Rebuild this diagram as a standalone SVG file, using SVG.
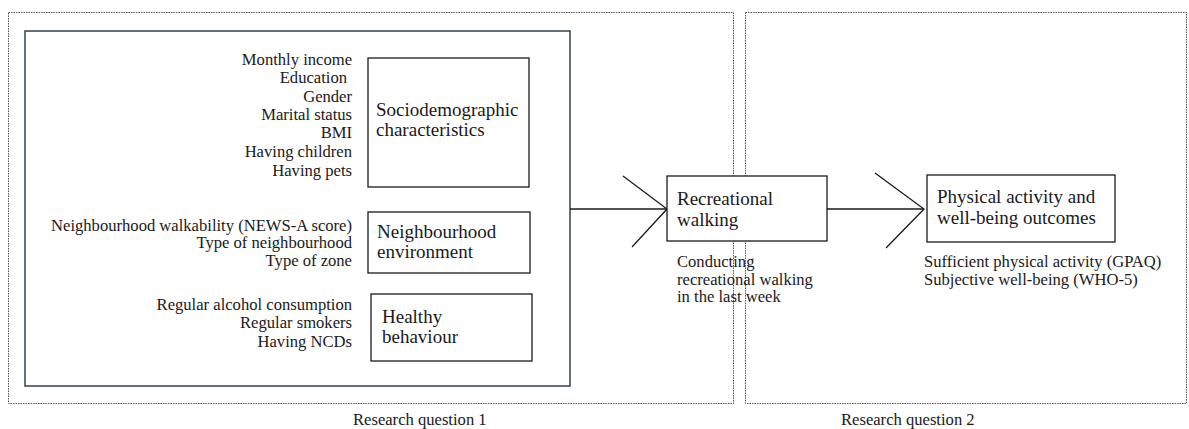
<svg xmlns="http://www.w3.org/2000/svg" width="1189" height="429" viewBox="0 0 1189 429">
<style>
.frame{fill:none;stroke:#555;stroke-width:1;stroke-dasharray:1.5 1}
.inner{fill:none;stroke:#34404c;stroke-width:1.5}
.box{fill:#fff;stroke:#1a1a1a;stroke-width:1.3}
.conn{fill:none;stroke:#1a1a1a;stroke-width:1.3}
text{font-family:"Liberation Serif","Times New Roman",serif;fill:#1a1a1a}
.t{font-size:19px}
.s{font-size:16.6px}
.r{text-anchor:end}
</style>
<rect width="1189" height="429" fill="#fff"/>
<g id="frames">
<rect class="frame" x="8.5" y="12.5" width="725" height="391"/>
<rect class="frame" x="745.5" y="12.5" width="441" height="391"/>
<rect class="inner" x="25" y="31" width="545" height="355"/>
<text class="s" x="353" y="425">Research question 1</text>
<text class="s" x="841" y="425">Research question 2</text>
</g>
<g id="connectors">
<line class="conn" x1="570" y1="209" x2="667" y2="209"/>
<polyline class="conn" points="623,176 667,209 632,247"/>
<line class="conn" x1="827" y1="209" x2="923" y2="209"/>
<polyline class="conn" points="875,173 924,209 886,248"/>
</g>
<g id="sociodemographic">
<g class="s r">
<text x="352" y="65">Monthly income</text>
<text x="347" y="83">Education</text>
<text x="352" y="102">Gender</text>
<text x="352" y="120">Marital status</text>
<text x="352" y="138">BMI</text>
<text x="352" y="157">Having children</text>
<text x="352" y="176">Having pets</text>
</g>
<rect class="box" x="368" y="58" width="161" height="129"/>
<text class="t" x="376" y="116">Sociodemographic</text>
<text class="t" x="376" y="136">characteristics</text>
</g>
<g id="neighbourhood">
<g class="s r">
<text x="352" y="231">Neighbourhood walkability (NEWS-A score)</text>
<text x="352" y="248">Type of neighbourhood</text>
<text x="352" y="266">Type of zone</text>
</g>
<rect class="box" x="368" y="212" width="162" height="61"/>
<text class="t" x="377" y="238">Neighbourhood</text>
<text class="t" x="377" y="258">environment</text>
</g>
<g id="healthy">
<g class="s r">
<text x="352" y="310">Regular alcohol consumption</text>
<text x="352" y="328">Regular smokers</text>
<text x="352" y="347">Having NCDs</text>
</g>
<rect class="box" x="371" y="294" width="161" height="67"/>
<text class="t" x="382" y="323">Healthy</text>
<text class="t" x="382" y="343">behaviour</text>
</g>
<g id="recreational">
<rect class="box" x="667" y="176" width="160" height="65"/>
<text class="t" x="677" y="205">Recreational</text>
<text class="t" x="677" y="226">walking</text>
<text class="s" x="677" y="267">Conducting</text>
<text class="s" x="677" y="285">recreational walking</text>
<text class="s" x="677" y="302">in the last week</text>
</g>
<g id="outcomes">
<rect class="box" x="927" y="175" width="188" height="67"/>
<text class="t" x="937" y="203">Physical activity and</text>
<text class="t" x="937" y="224">well-being outcomes</text>
<text class="s" x="924" y="267">Sufficient physical activity (GPAQ)</text>
<text class="s" x="924" y="285">Subjective well-being (WHO-5)</text>
</g>
</svg>
